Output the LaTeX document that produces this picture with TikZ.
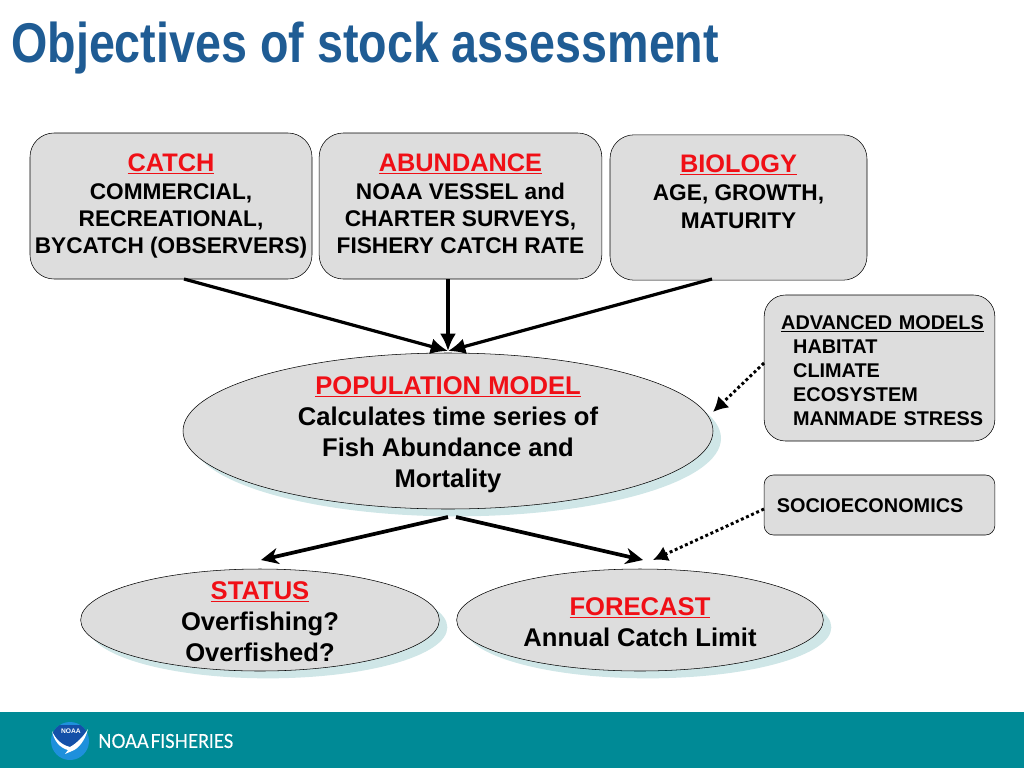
\documentclass[tikz,border=0pt]{standalone}
\usepackage{fontspec}
\setmainfont{Liberation Sans}
\newfontfamily\titlefont[FakeStretch=0.833]{Liberation Sans}
\newfontfamily\logofont[FakeStretch=0.9,FakeBold=0.4]{Lato}
\usetikzlibrary{arrows.meta,shapes.geometric,shadows}
\definecolor{boxgrey}{HTML}{DDDDDD}
\definecolor{shadowteal}{HTML}{CFE6E7}
\definecolor{footerteal}{HTML}{008A96}
\definecolor{titleblue}{HTML}{1F5C94}
\definecolor{headred}{HTML}{F00F16}
\definecolor{logodark}{HTML}{1450A8}
\definecolor{logolight}{HTML}{1E90DC}
\tikzset{
    bigbox/.style={draw, fill=boxgrey, rounded corners=18pt, align=center, inner sep=0pt, font=\fontsize{17}{20.3}\bfseries\selectfont},
    sidebox/.style={draw, fill=boxgrey, align=left, inner sep=0pt, font=\fontsize{14.9}{18}\bfseries\selectfont},
    oval/.style={draw, ellipse, fill=boxgrey, align=center, inner xsep=0pt, inner ysep=-14pt, font=\fontsize{19.2}{23.25}\bfseries\selectfont,
        drop shadow={shadow xshift=6pt, shadow yshift=-5.5pt, fill=shadowteal, opacity=1}},
    solidarrow/.style={line width=2.4pt, -{Latex[length=13pt,width=12pt]}},
    slimarrow/.style={line width=2.8pt, -{Stealth[length=13pt,width=12pt,inset=4pt]}},
    dotarrow/.style={line width=2.2pt, dotted, -{Latex[length=11pt,width=12pt]}}
}
\newcommand{\headline}[1]{\textcolor{headred}{\underline{#1}}}
\newcommand{\boxhead}[1]{{\fontsize{19}{20.3}\selectfont\headline{#1}}}
\begin{document}
\begin{tikzpicture}[x=0.75pt, y=-0.75pt]
    \useasboundingbox (0,0) rectangle (1024,768);

    % Footer band and title
    \fill[footerteal] (0,712) rectangle (1024,768);
    \node[anchor=base west, inner sep=0pt, text=titleblue, font=\fontsize{42}{42}\titlefont\bfseries] (title) at (11,62) {Objectives of stock assessment};

    % Input boxes
    \node[bigbox, minimum width=211.5pt, minimum height=109.5pt] (catch) at (171,206) {\boxhead{CATCH}\\[1pt]COMMERCIAL,\\RECREATIONAL,\\BYCATCH (OBSERVERS)};
    \node[bigbox, minimum width=212pt, minimum height=109.5pt] (abundance) at (460.5,206) {\boxhead{ABUNDANCE}\\[1pt]NOAA VESSEL and\\CHARTER SURVEYS,\\FISHERY CATCH RATE\rule[-3.6pt]{0pt}{1pt}};
    \node[bigbox, minimum width=192.75pt, minimum height=109pt] (biology) at (738.5,207.5) {\boxhead{BIOLOGY}\\[1pt]AGE, GROWTH,\\MATURITY\\\rule[-3.8pt]{0pt}{1pt}};

    % Side boxes
    \node[sidebox, rounded corners=16pt, minimum width=173pt, minimum height=109.5pt, text width=165pt] (advanced) at (879.5,368) {\rule{0pt}{13.8pt}\hspace*{8.75pt}\underline{ADVANCED MODELS}\\\hspace*{17.75pt}HABITAT\\\hspace*{17.75pt}CLIMATE\\\hspace*{17.75pt}ECOSYSTEM\\\hspace*{17.75pt}MANMADE STRESS};
    \node[sidebox, rounded corners=7pt, minimum width=173pt, minimum height=45pt, text width=154pt] (socio) at (879.5,505) {\rule{0pt}{12pt}SOCIOECONOMICS};

    % Ellipses
    \node[oval, minimum width=397.5pt, minimum height=117pt] (popmodel) at (448,431) {\rule{0pt}{18.5pt}\headline{POPULATION MODEL}\\Calculates time series of\\Fish Abundance and\\Mortality};
    \node[oval, minimum width=269pt, minimum height=76.5pt] (status) at (260,620) {\rule{0pt}{15.5pt}\headline{STATUS}\\Overfishing?\\Overfished?};
    \node[oval, minimum width=275pt, minimum height=76.5pt] (forecast) at (640,620) {\rule{0pt}{16pt}\headline{FORECAST}\\Annual Catch Limit};

    % Free ends of the arrows
    \coordinate (catchfoot) at (184,279);
    \coordinate (abundfoot) at (448,279);
    \coordinate (biofoot) at (712,279);
    \coordinate (poptop) at (448,351);
    \coordinate (poptipright) at (713,412);
    \coordinate (advfoot) at (764,363);
    \coordinate (popleft) at (448,517);
    \coordinate (popright) at (456,517);
    \coordinate (statustop) at (261,560);
    \coordinate (forecasttop) at (643,560);
    \coordinate (sociofoot) at (764,509);
    \coordinate (forecastdot) at (653,560);

    % Draw arrows
    \draw[solidarrow] (catchfoot) -- (poptop);
    \draw[solidarrow] (abundfoot) -- (poptop);
    \draw[solidarrow] (biofoot) -- (poptop);
    \draw[slimarrow] (popleft) -- (statustop);
    \draw[slimarrow] (popright) -- (forecasttop);
    \draw[dotarrow] (advfoot) -- (poptipright);
    \draw[dotarrow] (sociofoot) -- (forecastdot);

    % Logo
    \fill[logolight] (70,741) circle (19);
    \begin{scope}
        \clip (70,741) circle (19);
        \fill[logodark] (45,725) -- (95,725) -- (88,729) .. controls (83,737) and (77,743) .. (70,747) .. controls (62,745) and (56,740) .. (52,731) -- cycle;
    \end{scope}
    \fill[white] (52,731) .. controls (56,740) and (62,745) .. (70,747) .. controls (77,743) and (83,737) .. (88,729) .. controls (85,741) and (78,749) .. (72,751) -- (65,754) -- (68,750) .. controls (60,748) and (54,741) .. (52,731) -- cycle;
    \node[inner sep=0pt, text=white, font=\fontsize{5}{5}\bfseries\selectfont] (logotext) at (71,731) {NOAA};
    \node[anchor=west, inner sep=0pt, text=white, font=\fontsize{14.5}{14.5}\logofont] (logoname) at (98,741) {NOAA\hspace{-2pt} FISHERIES};
\end{tikzpicture}
\end{document}
